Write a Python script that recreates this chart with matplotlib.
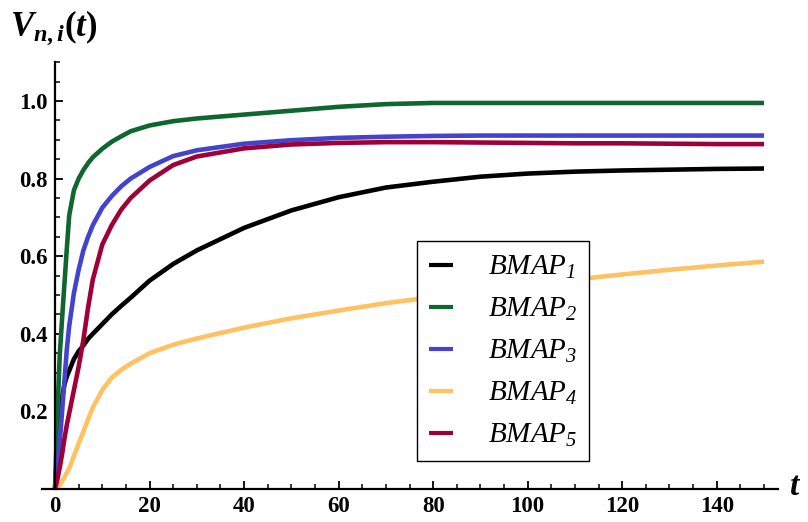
import numpy as np
import matplotlib
matplotlib.use("Agg")
import matplotlib.pyplot as plt
from matplotlib.ticker import FixedLocator

plt.rcParams['mathtext.fontset'] = 'custom'
plt.rcParams['mathtext.rm'] = 'Liberation Serif:italic'
plt.rcParams['mathtext.it'] = 'Liberation Serif:italic'
plt.rcParams['mathtext.bf'] = 'Liberation Serif:bold'
plt.rcParams['mathtext.bfit'] = 'Liberation Serif:italic:bold'

# values
t = [0, 0.5, 1, 1.5, 2, 2.5, 3, 4, 5, 6, 7, 8, 10, 12, 14, 16, 20, 25, 30,
     40, 50, 60, 70, 80, 90, 100, 110, 120, 130, 140, 150]
bmap1 = [0, 0.10, 0.18, 0.235, 0.27, 0.29, 0.305, 0.335, 0.355, 0.37, 0.387,
         0.40, 0.425, 0.45, 0.472, 0.493, 0.537, 0.58, 0.615, 0.673, 0.718,
         0.752, 0.777, 0.792, 0.805, 0.813, 0.818, 0.821, 0.823, 0.825, 0.826]
bmap2 = [0, 0.19, 0.345, 0.44, 0.53, 0.62, 0.705, 0.77, 0.80, 0.822, 0.84,
         0.855, 0.877, 0.895, 0.909, 0.922, 0.937, 0.948, 0.955, 0.965, 0.975,
         0.985, 0.992, 0.995, 0.995, 0.995, 0.995, 0.995, 0.995, 0.995, 0.995]
bmap3 = [0, 0.06, 0.12, 0.20, 0.28, 0.36, 0.42, 0.505, 0.565, 0.615, 0.65,
         0.68, 0.725, 0.755, 0.78, 0.80, 0.83, 0.858, 0.873, 0.89, 0.899,
         0.905, 0.908, 0.91, 0.911, 0.911, 0.911, 0.911, 0.911, 0.911, 0.911]
bmap4 = [0, 0.003, 0.01, 0.02, 0.03, 0.043, 0.053, 0.085, 0.117, 0.148, 0.18,
         0.21, 0.255, 0.287, 0.307, 0.323, 0.35, 0.372, 0.388, 0.416, 0.44,
         0.46, 0.479, 0.495, 0.51, 0.525, 0.54, 0.553, 0.565, 0.576, 0.586]
bmap5 = [0, 0.025, 0.055, 0.09, 0.13, 0.165, 0.195, 0.255, 0.315, 0.384, 0.468,
         0.54, 0.63, 0.68, 0.72, 0.75, 0.795, 0.835, 0.857, 0.878, 0.888,
         0.892, 0.894, 0.894, 0.893, 0.892, 0.891, 0.891, 0.890, 0.889, 0.889]

series = [bmap1, bmap2, bmap3, bmap4, bmap5]
labels = [r'$\mathit{BMAP}_{%d}$' % (i + 1) for i in range(5)]
colors = ['#000000', '#10662F', '#4343CC', '#FFC262', '#A00038']

fig = plt.figure(figsize=(8.08, 5.22), dpi=100)
ax = fig.add_axes([0.0517, 0.0632, 0.9114, 0.8176])

for y, lab, c in zip(series, labels, colors):
    ax.plot(t, y, color=c, lw=3.3, label=lab, clip_on=False,
            solid_capstyle='butt')

ax.set_xlim(-2.8, 153)
ax.set_ylim(0, 1.1)

for s in ['top', 'right']:
    ax.spines[s].set_visible(False)
ax.spines['left'].set_position(('data', 0))
ax.spines['bottom'].set_position(('data', 0))
ax.spines['left'].set_linewidth(1.6)
ax.spines['bottom'].set_linewidth(1.6)

ax.xaxis.set_major_locator(FixedLocator(np.arange(0, 141, 20)))
ax.xaxis.set_minor_locator(FixedLocator(np.arange(5, 151, 5)))
ax.yaxis.set_major_locator(FixedLocator([0.2, 0.4, 0.6, 0.8, 1.0]))
ax.yaxis.set_minor_locator(FixedLocator(np.arange(0.05, 1.101, 0.05)))
ax.tick_params(which='major', direction='in', length=6, width=1.3, pad=5)
ax.tick_params(which='minor', direction='in', length=3.8, width=1.1)
ax.tick_params(axis='y', which='major', pad=5)

for lbl in ax.get_xticklabels() + ax.get_yticklabels():
    lbl.set_fontfamily('Liberation Serif')
    lbl.set_fontweight('bold')
    lbl.set_fontsize(16.5)

leg = ax.legend(loc='upper left', bbox_to_anchor=(0.5095, 0.581),
                fontsize=21, frameon=True, fancybox=False, framealpha=1,
                edgecolor='black', handlelength=0.8, handletextpad=1.2,
                labelspacing=0.47, borderpad=0.42, borderaxespad=0)
leg.get_frame().set_linewidth(1.0)
for ln in leg.get_lines():
    ln.set_linewidth(3.0)

fig.text(10 / 808, 1 - 36 / 522,
         r'$\mathbfit{V}_{\mathbfit{n,i}}\mathbf{(}\mathbfit{t}\mathbf{)}$',
         fontsize=25, ha='left', va='baseline')
fig.text(789 / 808, 1 - 495 / 522, r'$\mathbfit{t}$', fontsize=24,
         ha='left', va='baseline')

fig.savefig('out.png', dpi=100)
